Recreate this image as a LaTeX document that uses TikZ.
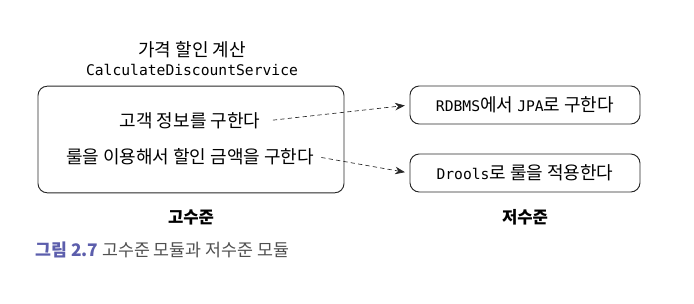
\documentclass[tikz,border=0pt]{standalone}
\usepackage{fontspec}
\setmainfont{Noto Sans CJK KR}
\setmonofont{DejaVu Sans Mono}
\usepackage{tikz}
\usetikzlibrary{arrows.meta, positioning}
\definecolor{capblue}{RGB}{92,94,172}
\definecolor{capgray}{RGB}{80,80,80}
\definecolor{linegray}{RGB}{40,40,40}
\newcommand{\mtxt}[1]{{\fontsize{11}{13}\selectfont\ttfamily #1}}

\begin{document}
\begin{tikzpicture}[
  x=0.75pt, y=-0.75pt,
  font=\fontsize{13.5}{16}\selectfont,
  modbox/.style={draw=linegray, rounded corners=7pt, line width=0.7pt},
  lowbox/.style={modbox, minimum width=172.5pt, minimum height=28.5pt, inner sep=0pt},
  dashto/.style={-{Stealth[length=2.6mm, width=2mm]}, dashed, draw=linegray,
                 line width=0.5pt, dash pattern=on 3.2pt off 2.4pt},
  levellbl/.style={font=\fontsize{12.5}{15}\selectfont\bfseries},
  monolbl/.style={font=\fontsize{11}{13}\selectfont\ttfamily}
]
\useasboundingbox (0,0) rectangle (694,304);

% ---------------------------------------------- the high level module
\node[modbox, minimum width=229.5pt, minimum height=80pt] (high) at (191,139.5) {};
\node[monolbl] (svc) at (192,70) {CalculateDiscountService};
\node[above=0pt of svc, inner sep=1pt] (title) {가격 할인 계산};
\node (info) at (190,121) {고객 정보를 구한다};
\node (rule) at (190,157) {룰을 이용해서 할인 금액을 구한다};

% ---------------------------------------------- the low level modules
\node[lowbox] (db) at (525,105) {\mtxt{RDBMS}에서 \mtxt{JPA}로 구한다};
\node[lowbox] (drools) at (525,173) {\mtxt{Drools}로 룰을 적용한다};

\draw[dashto, shorten <=6pt, shorten >=3.5pt] (info.east) -- (db.west);
\draw[dashto, shorten <=2pt, shorten >=3.5pt] (rule.east) -- (drools.west);

% ---------------------------------------------- level labels
\node[levellbl] (hlbl) at (high.south |- 0,217) {고수준};
\node[levellbl] (llbl) at (db.south |- 0,217) {저수준};

% ---------------------------------------------- caption
\node[anchor=west, inner sep=0pt, font=\fontsize{13}{15}\selectfont] (cap) at (35,250)
  {\textcolor{capblue}{\bfseries 그림 2.7} \textcolor{capgray}{고수준 모듈과 저수준 모듈}};

\end{tikzpicture}
\end{document}
